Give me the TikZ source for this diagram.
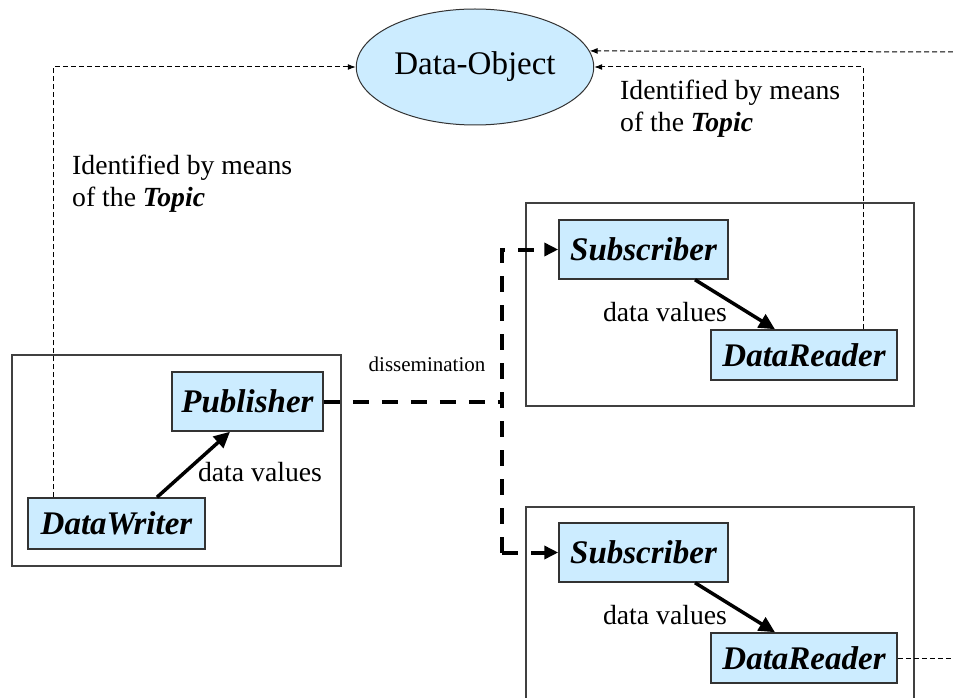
\documentclass[tikz,border=0pt]{standalone}
\usepackage{fontspec}
\setmainfont{Liberation Serif}
\usetikzlibrary{arrows.meta}
\usetikzlibrary{shapes.geometric}

\definecolor{boxblue}{RGB}{204,236,255}

\begin{document}
\begin{tikzpicture}[x=1pt,y=-1pt]
    \tikzstyle{entity} = [draw=black!80, fill=boxblue, line width=1.5pt, rectangle, inner sep=0pt, font=\fontsize{33}{40}\selectfont\bfseries\itshape];
    \tikzstyle{frame} = [draw=black!75, line width=1.5pt, rectangle, inner sep=0pt, minimum width=388pt, minimum height=203pt];
    \tikzstyle{note} = [inner sep=0pt, font=\fontsize{27.7}{32}\selectfont];
    \tikzstyle{flow} = [draw, line width=3.5pt, -{Triangle[length=16pt,width=15pt]}];
    \tikzstyle{idline} = [draw, line width=1pt, dash pattern=on 5pt off 3pt];
    \tikzstyle{diss} = [draw, line width=4pt, dash pattern=on 16pt off 13pt];
    \clip (0,0) rectangle (953,698);
    % frames round the entities
    \node[frame, minimum width=329pt, minimum height=211pt] (pubframe) at (176.5,460.5) {};
    \node[frame] (subframeA) at (720,304.5) {};
    \node[frame] (subframeB) at (720,608.5) {};
    % the entities
    \node[ellipse, draw=black!80, fill=boxblue, line width=1pt, minimum width=218pt, minimum height=116pt, font=\fontsize{33}{40}\selectfont] (dobj) at (475,67) {Data-Object};
    \node[entity, minimum width=151pt, minimum height=59pt] (pub) at (247.5,401.5) {Publisher};
    \node[entity, minimum width=177pt, minimum height=51pt] (dwr) at (116.5,523.5) {DataWriter};
    \node[entity, minimum width=169pt, minimum height=59pt] (subA) at (643.5,249.5) {Subscriber};
    \node[entity, minimum width=186pt, minimum height=50pt] (rdrA) at (804,355) {DataReader};
    \node[entity, minimum width=169pt, minimum height=59pt] (subB) at (643.5,552.5) {Subscriber};
    \node[entity, minimum width=186pt, minimum height=50pt] (rdrB) at (804,658) {DataReader};
    % texts
    \node[note, anchor=west, align=left] (topicL) at (72,184) {Identified by means\\of the \textbf{\textit{Topic}}};
    \node[note, anchor=west, align=left] (topicR) at (620,109) {Identified by means\\of the \textbf{\textit{Topic}}};
    \node[note] (valW) at (260,472) {data values};
    \node[note] (valA) at (665,312) {data values};
    \node[note] (valB) at (665,615) {data values};
    \node[inner sep=0pt, font=\fontsize{21}{24}\selectfont] (disslabel) at (427,364) {dissemination};
    % corners of the dashed lines
    \coordinate (lcorner) at (53,0);
    \coordinate (rcorner) at (863,0);
    \coordinate (redge) at (953,52);
    \coordinate (djoint) at (502,0);
    % data values
    \path[flow] ([xshift=40.5pt]dwr.north) -- ([xshift=-17.5pt]pub.south);
    \path[flow] ([xshift=51.5pt]subA.south) -- ([xshift=-29pt]rdrA.north);
    \path[flow] ([xshift=51.5pt]subB.south) -- ([xshift=-29pt]rdrB.north);
    % identified by the topic
    \path[idline, -{Latex[length=8pt,width=6pt]}] (dwr.north -| lcorner) |- (dobj.west);
    \path[idline, -{Latex[length=8pt,width=6pt]}] (rdrA.north -| rcorner) |- (dobj.east);
    \path[idline, -{Latex[length=8pt,width=6pt]}] (redge) -- (dobj.8);
    \path[idline] (rdrB.east) -- (rdrB.east -| redge);
    % dissemination
    \path[diss] (pub.east) -- (pub.east -| djoint);
    \path[diss, -{Triangle[length=14pt,width=13pt]}] (subB.west -| djoint) |- (subA.west);
    \path[diss, -{Triangle[length=14pt,width=13pt]}] (subB.west -| djoint) -- (subB.west);
\end{tikzpicture}
\end{document}
